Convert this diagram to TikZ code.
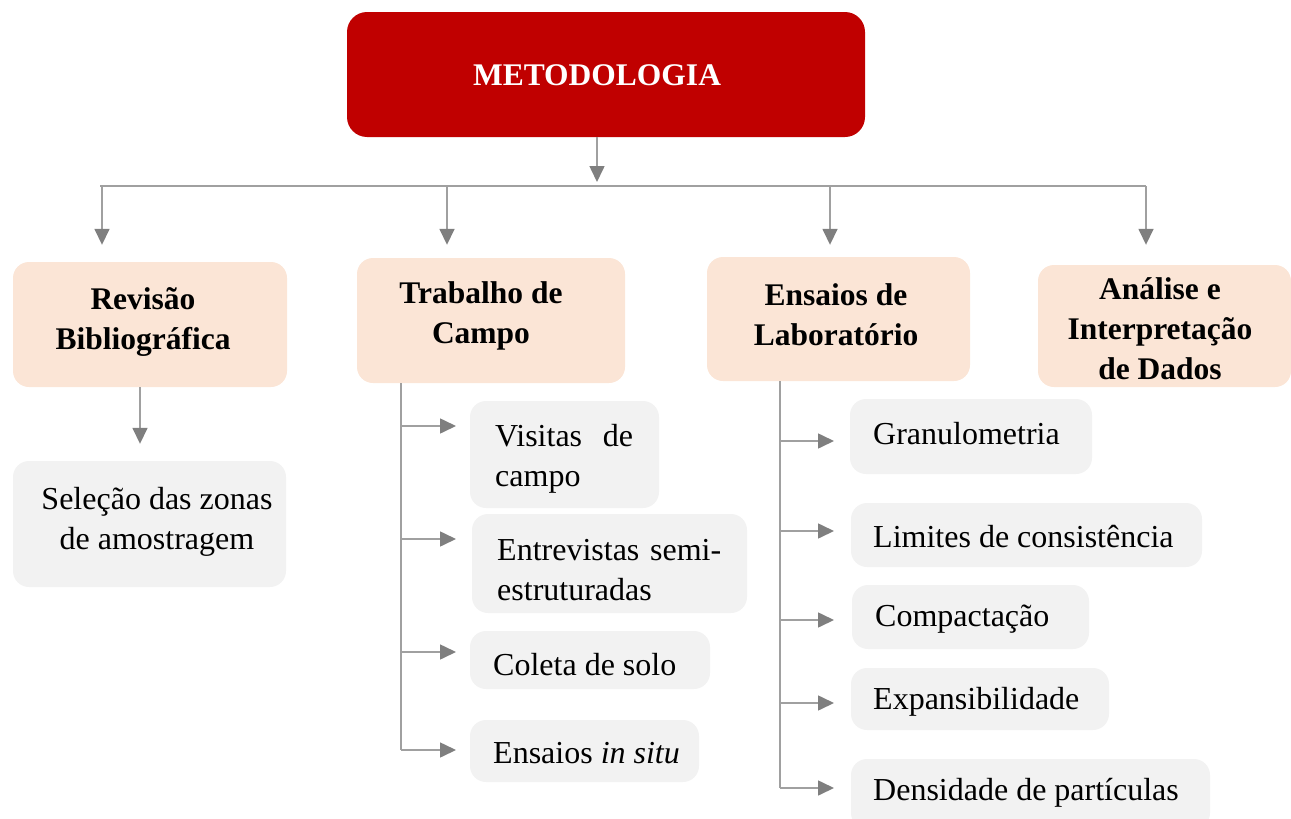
\documentclass[tikz,border=0pt]{standalone}
\usepackage{fontspec}
\setmainfont{Liberation Serif}
\usetikzlibrary{arrows.meta}
\definecolor{mred}{HTML}{C00000}
\definecolor{peach}{HTML}{FBE5D6}
\definecolor{lgray}{HTML}{F2F2F2}
\definecolor{linec}{HTML}{A0A0A0}
\definecolor{tipc}{HTML}{7F7F7F}
\tikzset{
  box/.style={rounded corners=16pt, inner sep=0pt, draw=none},
  headbox/.style={box, fill=peach},
  subbox/.style={box, fill=lgray},
  txt/.style={inner sep=0pt, font=\fontsize{32}{40}\selectfont},
  btxt/.style={txt, font=\fontsize{31.5}{40}\selectfont\bfseries, align=center},
  conn/.style={draw=linec, line width=1.6pt},
  arr/.style={conn, -{Triangle[length=16pt,width=15pt,color=tipc]}},
}
\begin{document}
\begin{tikzpicture}[x=1pt,y=-1pt]
\useasboundingbox (0,0) rectangle (1291,819);
% main box
\path[fill=mred, rounded corners=20pt] (347,12) rectangle (865,137);
\node[box, minimum width=518pt, minimum height=125pt] (meto) at (606,74.5) {};
\node[btxt, text=white] (metot) at (597,75) {METODOLOGIA};
% headers
\node[headbox, minimum width=274pt, minimum height=125pt] (rev) at (150,324.5) {};
\node[btxt] (revt) at (143,322) {Revisão\\Bibliográfica};
\node[headbox, minimum width=268pt, minimum height=125pt] (tc) at (491,320.5) {};
\node[btxt] (tct) at (481,316) {Trabalho de\\Campo};
\node[headbox, minimum width=263pt, minimum height=124pt] (el) at (838.5,319) {};
\node[btxt] (elt) at (836,315) {Ensaios de\\Laboratório};
\node[headbox, minimum width=253pt, minimum height=122pt] (an) at (1164.5,326) {};
\node[btxt] (ant) at (1160,329) {Análise e\\Interpretação\\de Dados};
% top connectors
\coordinate (hl) at (100,186);
\coordinate (hr) at (1146,186);
\draw[arr] (meto.south -| 597,0) -- (597,182);
\draw[conn] (hl) -- (hr);
\draw[arr] (102,186) -- ([yshift=17pt]rev.north -| 102,0);
\draw[arr] (447,186) -- ([yshift=13pt]tc.north -| 447,0);
\draw[arr] (830,186) -- ([yshift=12pt]el.north -| 830,0);
\draw[arr] (hr) -- ([yshift=20pt]an.north -| hr);
% revisao child
\node[subbox, minimum width=273pt, minimum height=126pt] (sel) at (149.5,524) {};
\node[txt, align=center] (selt) at (157,522) {Seleção das zonas\\de amostragem};
\draw[arr] (rev.south -| 140,0) -- ([yshift=17pt]sel.north -| 140,0);
% trabalho de campo children
\node[subbox, minimum width=189pt, minimum height=107pt] (v1) at (564.5,454.5) {};
\node[txt, text width=138pt, align=left, anchor=west] (v1t) at (495,459) {Visitas\hfill de\\campo};
\node[subbox, minimum width=275pt, minimum height=99pt] (v2) at (609.5,563.5) {};
\node[txt, text width=224pt, align=left, anchor=west] (v2t) at (497,570) {Entrevistas\hfill semi-\\estruturadas};
\node[subbox, minimum width=240pt, minimum height=58pt] (v3) at (590,660) {};
\node[txt, anchor=west] (v3t) at (493,665) {Coleta de solo};
\node[subbox, minimum width=229pt, minimum height=62pt] (v4) at (584.5,751) {};
\node[txt, anchor=west] (v4t) at (493,753) {Ensaios \textit{in situ}};
\coordinate (tcx) at (401,0);
\draw[conn] (tc.south -| tcx) -- (401,750);
\draw[arr] (401,426) -- (456,426);
\draw[arr] (401,539) -- (456,539);
\draw[arr] (401,652) -- (456,652);
\draw[arr] (401,750) -- (456,750);
% laboratorio children
\node[subbox, minimum width=242pt, minimum height=75pt] (g1) at (971,436.5) {};
\node[txt, anchor=west] (g1t) at (873,434) {Granulometria};
\node[subbox, minimum width=351pt, minimum height=64pt] (g2) at (1026.5,535) {};
\node[txt, anchor=west] (g2t) at (873,537) {Limites de consistência};
\node[subbox, minimum width=237pt, minimum height=64pt] (g3) at (970.5,617) {};
\node[txt, anchor=west] (g3t) at (875,619) {Compactação};
\node[subbox, minimum width=258pt, minimum height=62pt] (g4) at (980,699) {};
\node[txt, anchor=west] (g4t) at (873,702) {Expansibilidade};
\node[subbox, minimum width=359pt, minimum height=70pt] (g5) at (1030.5,794) {};
\node[txt, anchor=west] (g5t) at (873,793) {Densidade de partículas};
\draw[conn] (el.south -| 780,0) -- (780,788);
\draw[arr] (780,441) -- (834,441);
\draw[arr] (780,531) -- (834,531);
\draw[arr] (780,620) -- (834,620);
\draw[arr] (780,703) -- (834,703);
\draw[arr] (780,788) -- (834,788);
\end{tikzpicture}
\end{document}
